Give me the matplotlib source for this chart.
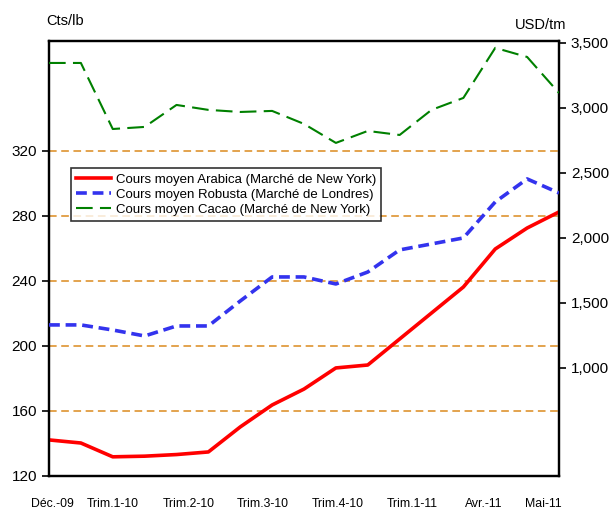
import matplotlib
matplotlib.use("Agg")
import matplotlib.pyplot as plt
from matplotlib.ticker import FuncFormatter

plt.rcParams['font.family'] = ['Liberation Sans', 'DejaVu Sans']

# monthly points, Dec-09 to May-11
arabica = [142.2, 140.3, 131.8, 132.2, 133.2, 134.8, 150.2, 163.7, 173.5,
           186.5, 188.3, 204.3, 220.3, 236.3, 259.7, 272.6, 282.5]          # cts/lb
robusta = [1331, 1331, 1292, 1246, 1323, 1323, 1515, 1700, 1700,
           1646, 1738, 1908, 1954, 2000, 2277, 2454, 2346]                   # USD/tm
cacao = [3346, 3346, 2838, 2854, 3023, 2985, 2969, 2977, 2877,
         2731, 2823, 2792, 2985, 3077, 3462, 3392, 3115]                     # USD/tm

x_labels = ['Déc.-09', 'Trim.1-10', 'Trim.2-10', 'Trim.3-10',
            'Trim.4-10', 'Trim.1-11', 'Avr.-11', 'Mai-11']
x_label_pos = [0.1, 2.0, 4.4, 6.7, 9.05, 11.4, 13.65, 15.5]

left_ticks = [120, 160, 200, 240, 280, 320]
right_ticks = [1000, 1500, 2000, 2500, 3000, 3500]

x = list(range(len(arabica)))

fig = plt.figure(figsize=(6.11, 5.11), dpi=100)
ax = fig.add_axes([0.0802, 0.0685, 0.8347, 0.8513])
ax2 = ax.twinx()

grid_col = '#DB8A1E'
for v in left_ticks[1:]:
    ax.axhline(v, color=grid_col, lw=1.1, ls=(0, (5, 3)), zorder=1)

l1, = ax.plot(x, arabica, color='#FF0000', lw=2.6, zorder=5,
              label='Cours moyen Arabica (Marché de New York)')
l2, = ax2.plot(x, robusta, color='#3333EE', lw=2.6, ls=(0, (3, 1.6)), zorder=5,
               label='Cours moyen Robusta (Marché de Londres)')
l3, = ax2.plot(x, cacao, color='#008000', lw=1.5, ls=(0, (8, 3.5)), zorder=5,
               label='Cours moyen Cacao (Marché de New York)')

ax.set_xlim(0, 16)
ax.set_ylim(120, 387.7)
ax2.set_ylim(169, 3515)
ax.set_yticks(left_ticks)
ax2.set_yticks(right_ticks)
ax2.yaxis.set_major_formatter(FuncFormatter(lambda v, p: f'{int(v):,}'))

ax.set_xticks(x_label_pos)
ax.set_xticklabels(x_labels, fontsize=8.8)
ax.tick_params(axis='x', length=0, pad=16)
ax.tick_params(axis='y', labelsize=11, length=5, width=1.2, direction='out')
ax2.tick_params(axis='y', labelsize=11, length=5, width=1.2, direction='out')

for a in (ax, ax2):
    for s in a.spines.values():
        s.set_linewidth(1.6)

fig.text(0.075, 0.958, 'Cts/lb', fontsize=10.5, ha='left', va='center')
fig.text(0.843, 0.951, 'USD/tm', fontsize=10.5, ha='left', va='center')

leg = ax.legend(handles=[l1, l2, l3], loc='upper left',
                bbox_to_anchor=(0.043, 0.708), fontsize=9.5,
                frameon=True, fancybox=False, edgecolor='black',
                borderpad=0.4, labelspacing=0.22, handlelength=2.6,
                handletextpad=0.4, borderaxespad=0)
leg.get_frame().set_linewidth(1.2)
leg.set_zorder(10)

fig.savefig('out.png', dpi=100)
